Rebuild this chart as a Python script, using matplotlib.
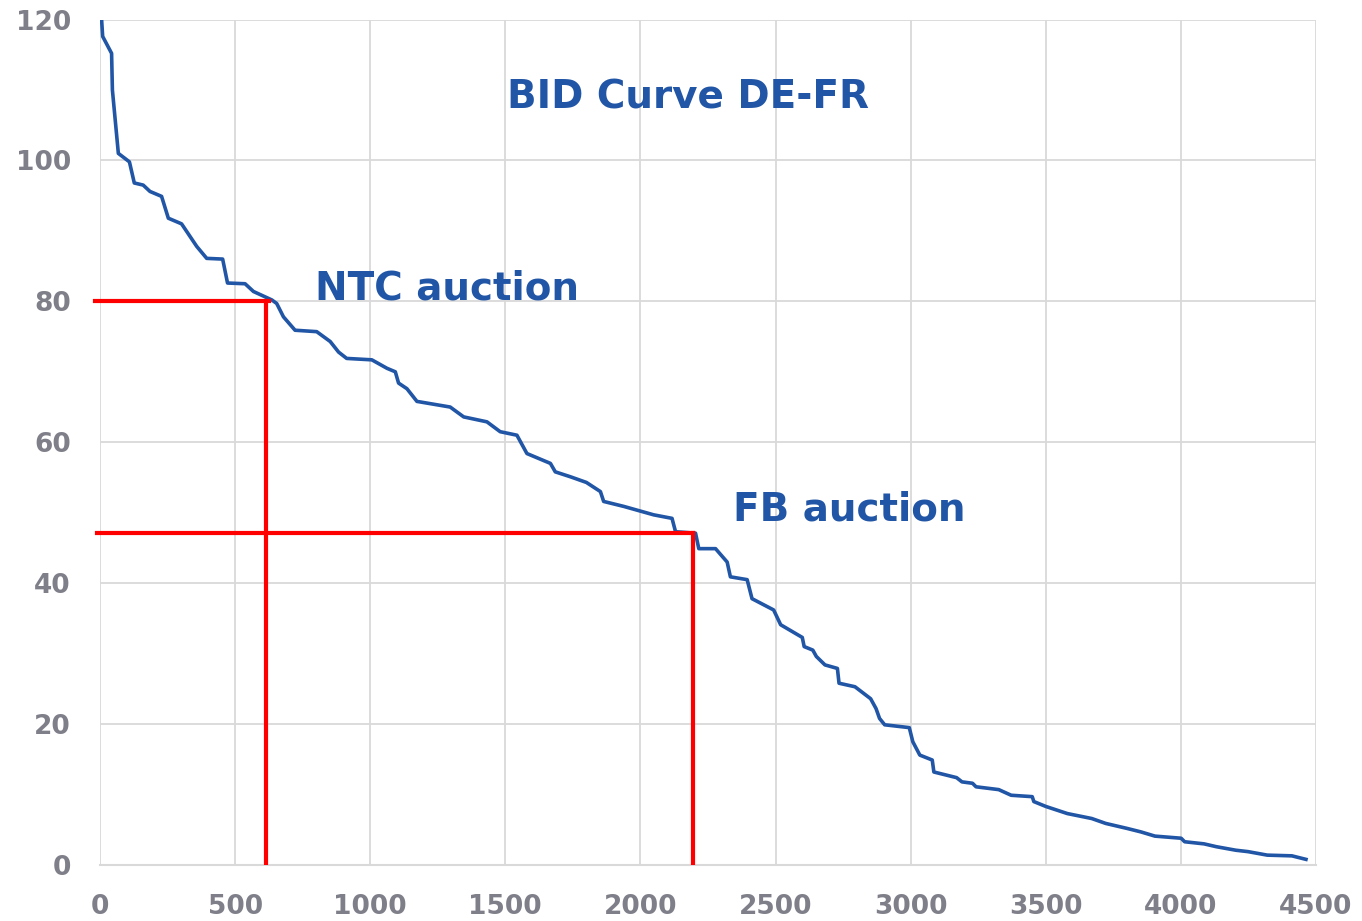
import matplotlib.pyplot as plt

# bid curve (MW vs EUR/MWh)
volume = [3, 6, 10, 43, 46, 68, 109, 127, 160, 185, 228, 253, 302, 358, 395, 454,
          472, 537, 568, 636, 654, 679, 722, 802, 852, 883, 913, 1006, 1062, 1093,
          1105, 1136, 1173, 1296, 1346, 1432, 1481, 1543, 1580, 1667, 1685, 1741,
          1800, 1852, 1864, 1938, 2049, 2117, 2130, 2204, 2216, 2278, 2321, 2333,
          2395, 2413, 2493, 2519, 2599, 2606, 2638, 2651, 2683, 2729, 2735, 2794,
          2852, 2872, 2885, 2904, 2995, 3008, 3034, 3080, 3086, 3170, 3190, 3229,
          3242, 3326, 3372, 3450, 3456, 3501, 3580, 3670, 3722, 3800, 3852, 3904,
          4001, 4014, 4086, 4131, 4203, 4248, 4320, 4411, 4463]
price = [122, 120, 117.6, 115.2, 110, 101, 99.8, 96.8, 96.5, 95.6, 94.9, 91.8, 91,
         87.8, 86.1, 86, 82.6, 82.5, 81.4, 80.2, 79.7, 77.8, 75.9, 75.7, 74.3, 72.8,
         71.9, 71.7, 70.5, 70, 68.4, 67.6, 65.8, 65, 63.6, 62.9, 61.5, 61, 58.4, 57,
         55.8, 55.1, 54.3, 53, 51.6, 50.9, 49.7, 49.2, 47.3, 47.1, 44.9, 44.9, 43,
         40.9, 40.5, 37.8, 36.2, 34.1, 32.3, 31.0, 30.5, 29.6, 28.4, 27.9, 25.8, 25.3,
         23.6, 22.2, 20.8, 19.9, 19.5, 17.5, 15.6, 14.9, 13.2, 12.4, 11.8, 11.6, 11.1,
         10.7, 9.9, 9.7, 9.0, 8.3, 7.3, 6.6, 5.9, 5.2, 4.7, 4.1, 3.8, 3.3, 3.0, 2.6,
         2.1, 1.9, 1.4, 1.3, 0.8]

# clearing points of the two auctions
ntc_vol, ntc_price = 615, 80
fb_vol, fb_price = 2196, 47.1

blue = '#2155a5'
grey = '#7f7f8a'

fig = plt.figure(figsize=(13.62, 9.21), dpi=100)
ax = fig.add_axes([0.0734, 0.0608, 0.8928, 0.918])

ax.plot(volume, price, color=blue, lw=2.6, zorder=3)

ax.plot([-18, ntc_vol + 10], [ntc_price, ntc_price], color='red', lw=3, clip_on=False, zorder=4)
ax.plot([ntc_vol, ntc_vol], [0, ntc_price], color='red', lw=3, zorder=4)
ax.plot([-10, fb_vol], [fb_price, fb_price], color='red', lw=3, clip_on=False, zorder=4)
ax.plot([fb_vol, fb_vol], [0, fb_price], color='red', lw=3, zorder=4)

ax.text(2176, 109, 'BID Curve DE-FR', color=blue, fontsize=28, fontweight='bold',
        ha='center', va='center')
ax.text(796, 81.8, 'NTC auction', color=blue, fontsize=28, fontweight='bold',
        ha='left', va='center')
ax.text(2344, 50.4, 'FB auction', color=blue, fontsize=28, fontweight='bold',
        ha='left', va='center')

ax.set_xlim(0, 4500)
ax.set_ylim(0, 120)
ax.set_xticks(range(0, 4501, 500))
ax.set_yticks(range(0, 121, 20))
ax.grid(True, color='#d9d9d9', lw=1.3)
ax.set_axisbelow(True)
for s in ['top', 'right', 'left']:
    ax.spines[s].set_visible(False)
ax.spines['bottom'].set_color('#d9d9d9')
ax.spines['bottom'].set_linewidth(1.5)
ax.tick_params(length=0, labelsize=19, labelcolor=grey)
ax.tick_params(axis='y', pad=21)
ax.tick_params(axis='x', pad=21)
for lab in ax.get_xticklabels() + ax.get_yticklabels():
    lab.set_fontweight('bold')

plt.savefig('out.png', dpi=100)
